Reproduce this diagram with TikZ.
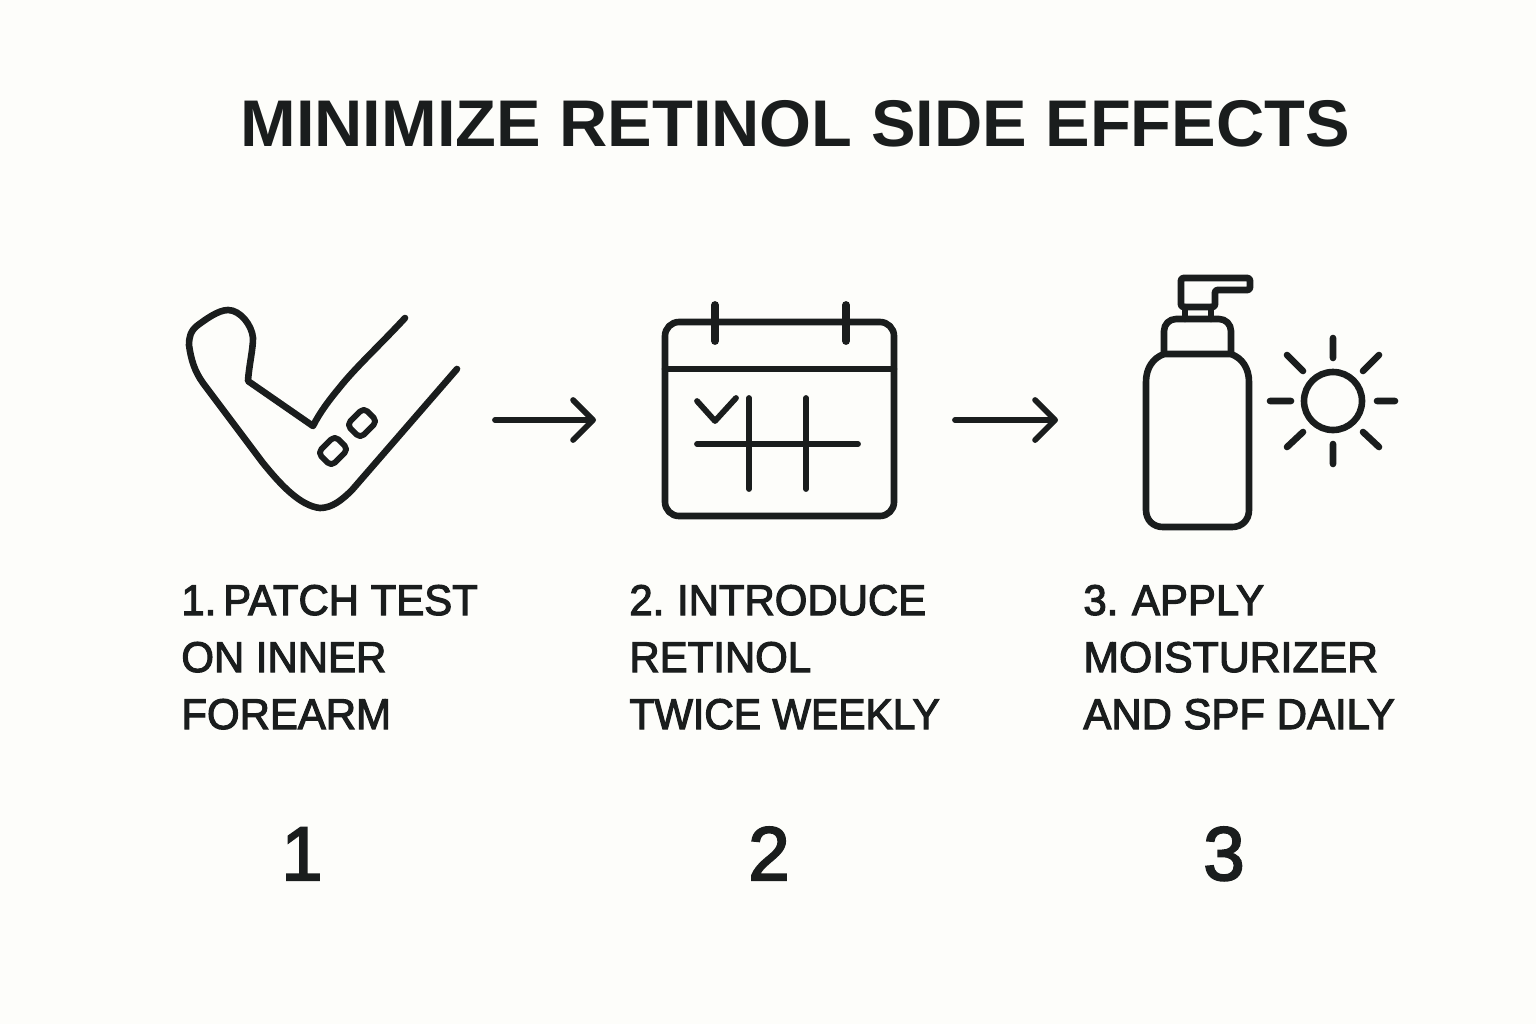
\documentclass[tikz,border=0pt]{standalone}
\usepackage{fontspec}
\usepackage{graphicx}
\usetikzlibrary{arrows.meta}
\newfontfamily\labfont[FakeBold=2.6,FakeStretch=0.975]{Liberation Sans}
\newfontfamily\titlefont[FakeStretch=1.012]{Liberation Sans Bold}
\definecolor{ink}{HTML}{1A1D1D}
\definecolor{paper}{HTML}{FDFDFA}
\tikzset{
 x=0.5pt,y=-0.5pt,
 icon/.style={draw=ink,line width=3.3pt,line cap=round,line join=round},
 thin icon/.style={icon,line width=2.9pt},
 flow/.style={draw=ink,line width=2.9pt,line cap=round,-{Straight Barb[length=10pt,width=20pt,line width=2.9pt,round]}},
 titletext/.style={anchor=base west,inner sep=0pt,text=ink,font=\titlefont\fontsize{33}{33}\selectfont},
 steptext/.style={anchor=base west,inner sep=0pt,text=ink,font=\labfont\fontsize{21.5}{21.5}\selectfont},
 numtext/.style={anchor=base,inner sep=0pt,text=ink,font=\labfont\fontsize{38}{38}\selectfont},
}
\begin{document}
\begin{tikzpicture}
\fill[paper] (0,0) rectangle (1536,1024);
\useasboundingbox (0,0) rectangle (1536,1024);
\node[titletext] (title) at (240,146) {MINIMIZE RETINOL SIDE EFFECTS};
% arm
\draw[icon] (405,318) .. controls (380,345) and (355,368) .. (340,387)
  .. controls (330,399) and (320,412) .. (313,426) -- (248,381)
  .. controls (249,365) and (253,350) .. (253,338)
  .. controls (252,325) and (240,310) .. (228,310)
  .. controls (218,310) and (205,320) .. (198,325)
  .. controls (190,331) and (189,338) .. (189,345)
  .. controls (191,360) and (195,372) .. (203,383)
  -- (263,463)
  .. controls (280,484) and (300,506) .. (320,508)
  .. controls (332,508) and (342,500) .. (352,490)
  -- (457,369);
\draw[thin icon,rotate around={45:(362,423)},rounded corners=2.5pt] (350,413.5) rectangle (374,432.5);
\draw[thin icon,rotate around={45:(333,451)},rounded corners=2.5pt] (321,441.5) rectangle (345,460.5);
% calendar
\draw[icon,rounded corners=7pt] (665,322) rectangle (894,516);
\draw[icon] (665,369) -- (894,369);
\draw[icon,line width=3.9pt] (715,305) -- (715,341);
\draw[icon,line width=3.9pt] (846,305) -- (846,341);
\draw[thin icon] (697,401) -- (715,421) -- (736,398);
\draw[thin icon] (697,444) -- (858,444);
\draw[thin icon] (749,398) -- (749,489);
\draw[thin icon] (806,398) -- (806,489);
% bottle
\draw[icon] (1164,354) .. controls (1153,358) and (1146,368) .. (1146,382) -- (1146,510)
  .. controls (1146,520) and (1153,527) .. (1163,527) -- (1232,527)
  .. controls (1242,527) and (1249,520) .. (1249,510) -- (1249,382)
  .. controls (1249,368) and (1242,358) .. (1231,354) -- cycle;
\draw[icon,rounded corners=6pt] (1164,354) -- (1164,319) -- (1231,319) -- (1231,354);
\draw[icon] (1185,319) -- (1185,307) (1211,319) -- (1211,307);
\draw[icon,rounded corners=1.2pt] (1181,278) -- (1250,278) -- (1250,290) -- (1215,290) -- (1215,307) -- (1181,307) -- cycle;
% sun
\draw[icon] (1333,401) circle[radius=29];
\draw[icon] (1333,338) -- (1333,358) (1333,444) -- (1333,464)
  (1270,401) -- (1291,401) (1377,401) -- (1395,401)
  (1363,371) -- (1379,355) (1287,355) -- (1303,371)
  (1287,447) -- (1303,432) (1363,432) -- (1379,447);
% flow arrows
\coordinate (a1s) at (495,420); \coordinate (a1e) at (596,420);
\coordinate (a2s) at (955,420); \coordinate (a2e) at (1058,420);
\draw[flow] (a1s) -- (a1e);
\draw[flow] (a2s) -- (a2e);
% labels
\node[steptext] (s1a) at (181,615) {1.\kern-2.4pt\ PATCH TEST};
\node[steptext] (s1b) at (181,672) {ON INNER};
\node[steptext] (s1c) at (181,729) {FOREARM};
\node[steptext] (s2a) at (629,615) {2.\kern0.5pt\ INTRODUCE};
\node[steptext] (s2b) at (629,672) {RETINOL};
\node[steptext] (s2c) at (629,729) {\scalebox{0.975}[1]{TWICE WEEKLY}};
\node[steptext] (s3a) at (1083,615) {3.\kern1pt\ APPLY};
\node[steptext] (s3b) at (1083,672) {\scalebox{1.02}[1]{MOISTURIZER}};
\node[steptext] (s3c) at (1083,729) {AND SPF DAILY};
\node[numtext] (n1) at (302,880) {1};
\node[numtext] (n2) at (769,880) {2};
\node[numtext] (n3) at (1224,880) {3};
\end{tikzpicture}
\end{document}
